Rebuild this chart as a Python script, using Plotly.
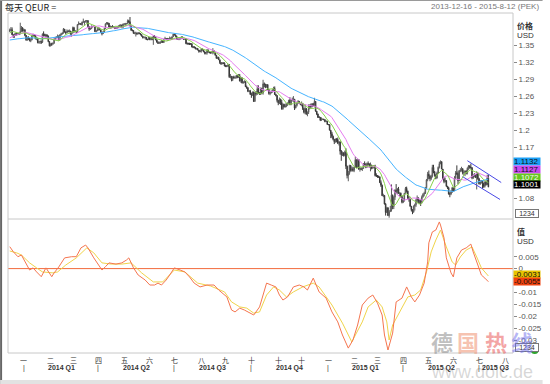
import pandas as pd
import plotly.graph_objects as go

# ---------------- DATA (EUR/USD daily, prices in pips: 13765 -> 1.3765) ----------------
# closes before the visible window (2013-09-02 .. 2013-12-13), used only to seed the averages
warmup_close = [
    13205, 13180, 13210, 13110, 13185, 13255, 13270, 13315, 13295, 13280, 13345, 13360, 13520, 13535, 13525, 13490, 13490, 13520, 13485, 13525, 13525,
    13500, 13580, 13625, 13555, 13580, 13575, 13510, 13545, 13550, 13570, 13510, 13555, 13670, 13685, 13675, 13780, 13780, 13800, 13805, 13785, 13775, 13720, 13585,
    13485, 13510, 13500, 13515, 13365, 13365, 13405, 13425, 13465, 13490, 13500, 13505, 13535, 13440, 13485, 13555, 13520, 13575, 13585, 13595, 13590,
    13545, 13590, 13590, 13665, 13705, 13740, 13760, 13780, 13760, 13740,
]

months = ["2013-12", "2014-01", "2014-02", "2014-03", "2014-04", "2014-05", "2014-06", "2014-07",
          "2014-08", "2014-09", "2014-10", "2014-11", "2014-12", "2015-01", "2015-02", "2015-03",
          "2015-04", "2015-05", "2015-06", "2015-07"]

close_m = [
    [13765, 13770, 13680, 13665, 13675, 13700, 13690, 13700, 13695, 13740, 13800, 13745],
    [13770, 13670, 13590, 13630, 13615, 13575, 13590, 13670, 13675, 13670, 13610, 13620, 13540, 13560, 13560, 13550, 13690, 13675, 13675, 13670, 13660, 13560, 13485],
    [13520, 13515, 13530, 13595, 13635, 13640, 13655, 13590, 13680, 13695, 13710, 13780, 13730, 13715, 13740, 13735, 13745, 13690, 13730, 13805],
    [13735, 13745, 13730, 13860, 13875, 13880, 13860, 13905, 13905, 13910, 13925, 13930, 13825, 13780, 13790, 13830, 13825, 13830, 13735, 13750, 13770],
    [13795, 13765, 13720, 13700, 13730, 13790, 13875, 13890, 13885, 13815, 13815, 13820, 13815, 13815, 13795, 13795, 13810, 13825, 13830, 13850, 13810, 13870],
    [13870, 13870, 13875, 13925, 13910, 13835, 13760, 13755, 13705, 13710, 13710, 13695, 13710, 13705, 13685, 13655, 13630, 13635, 13635, 13595, 13595, 13635],
    [13595, 13630, 13595, 13660, 13640, 13590, 13550, 13530, 13545, 13545, 13575, 13545, 13600, 13610, 13605, 13600, 13610, 13615, 13615, 13645, 13690],
    [13680, 13655, 13610, 13600, 13605, 13615, 13640, 13615, 13605, 13610, 13525, 13525, 13525, 13525, 13525, 13465, 13465, 13460, 13430, 13440, 13410, 13395, 13390],
    [13425, 13420, 13380, 13365, 13360, 13410, 13375, 13365, 13360, 13365, 13400, 13360, 13320, 13265, 13280, 13240, 13190, 13170, 13185, 13180, 13130],
    [13130, 13130, 13150, 12940, 12950, 12890, 12940, 12920, 12925, 12960, 12945, 12960, 12865, 12920, 12830, 12850, 12850, 12765, 12745, 12685, 12690, 12630],
    [12620, 12670, 12505, 12655, 12645, 12730, 12650, 12630, 12740, 12655, 12815, 12810, 12760, 12800, 12715, 12645, 12655, 12670, 12700, 12735, 12630, 12610, 12525],
    [12480, 12545, 12490, 12375, 12455, 12410, 12420, 12440, 12470, 12525, 12450, 12530, 12545, 12545, 12390, 12435, 12475, 12505, 12470, 12450],
    [12470, 12380, 12315, 12380, 12285, 12315, 12375, 12445, 12410, 12465, 12435, 12505, 12335, 12285, 12225, 12225, 12175, 12190, 12195, 12185, 12150, 12155, 12100],
    [12100, 12000, 11935, 11890, 11840, 11795, 11845, 11835, 11770, 11790, 11630, 11565, 11600, 11555, 11610, 11365, 11200, 11240, 11380, 11290, 11320, 11290],
    [11345, 11480, 11345, 11480, 11315, 11320, 11310, 11325, 11400, 11390, 11355, 11410, 11405, 11380, 11385, 11330, 11340, 11360, 11200, 11195],
    [11185, 11175, 11075, 11030, 10845, 10850, 10700, 10550, 10630, 10495, 10565, 10595, 10855, 10655, 10820, 10940, 10925, 10965, 10885, 10890, 10830, 10730],
    [10765, 10885, 10975, 10925, 10800, 10780, 10660, 10600, 10560, 10660, 10685, 10765, 10810, 10740, 10750, 10730, 10825, 10870, 10885, 10985, 11125, 11225],
    [11195, 11145, 11185, 11345, 11265, 11200, 11155, 11245, 11345, 11410, 11445, 11315, 11145, 11095, 11110, 11015, 10985, 10875, 10875, 10910, 10985],
    [10930, 11150, 11245, 11240, 11110, 11290, 11290, 11320, 11250, 11260, 11280, 11240, 11330, 11370, 11350, 11340, 11160, 11200, 11200, 11165, 11235, 11145],
    [11055, 11085, 11110, 11060, 11010, 11085, 11040, 11160, 11001],
]
high_m = [
    [13790, 13815, 13810, 13690, 13705, 13715, 13710, 13710, 13720, 13893, 13835, 13815],
    [13790, 13775, 13675, 13650, 13655, 13625, 13620, 13685, 13700, 13690, 13675, 13645, 13625, 13570, 13580, 13580, 13705, 13740, 13700, 13695, 13690, 13665, 13565],
    [13530, 13540, 13545, 13620, 13645, 13650, 13685, 13670, 13690, 13715, 13720, 13800, 13780, 13740, 13775, 13765, 13775, 13750, 13735, 13825],
    [13820, 13765, 13745, 13870, 13915, 13885, 13885, 13915, 13965, 13925, 13935, 13935, 13935, 13830, 13805, 13845, 13835, 13845, 13835, 13765, 13810],
    [13810, 13805, 13770, 13735, 13745, 13800, 13880, 13905, 13895, 13880, 13845, 13835, 13850, 13825, 13820, 13820, 13830, 13850, 13860, 13865, 13860, 13875],
    [13885, 13890, 13885, 13950, 13945, 13993, 13845, 13775, 13760, 13725, 13735, 13720, 13730, 13720, 13710, 13690, 13660, 13650, 13650, 13640, 13610, 13645],
    [13640, 13650, 13640, 13670, 13675, 13645, 13600, 13565, 13560, 13565, 13590, 13580, 13610, 13645, 13620, 13625, 13620, 13650, 13640, 13650, 13695],
    [13700, 13685, 13665, 13610, 13615, 13625, 13655, 13650, 13620, 13620, 13620, 13545, 13540, 13540, 13535, 13525, 13480, 13480, 13465, 13445, 13445, 13415, 13405],
    [13445, 13440, 13425, 13390, 13370, 13430, 13420, 13385, 13380, 13390, 13445, 13395, 13370, 13325, 13295, 13295, 13215, 13200, 13195, 13190, 13195],
    [13150, 13145, 13170, 13165, 12990, 12945, 12950, 12960, 12945, 12970, 12970, 12990, 12990, 12940, 12930, 12860, 12880, 12865, 12785, 12760, 12705, 12710],
    [12660, 12680, 12680, 12670, 12690, 12790, 12790, 12670, 12750, 12745, 12887, 12840, 12815, 12810, 12810, 12720, 12685, 12700, 12720, 12765, 12770, 12640, 12615],
    [12530, 12575, 12555, 12535, 12475, 12460, 12470, 12475, 12490, 12535, 12580, 12545, 12575, 12600, 12550, 12445, 12490, 12530, 12515, 12480],
    [12505, 12480, 12395, 12455, 12390, 12330, 12455, 12450, 12470, 12475, 12480, 12570, 12515, 12335, 12290, 12250, 12230, 12225, 12200, 12200, 12190, 12175, 12165],
    [12105, 12095, 11965, 11970, 11905, 11840, 11850, 11860, 11870, 11810, 11805, 11650, 11625, 11610, 11640, 11680, 11375, 11280, 11390, 11385, 11360, 11355],
    [11355, 11535, 11480, 11500, 11490, 11345, 11345, 11345, 11420, 11450, 11420, 11430, 11450, 11415, 11430, 11390, 11370, 11385, 11390, 11240],
    [11210, 11200, 11185, 11115, 11040, 10880, 10855, 10715, 10650, 10645, 10590, 10665, 11045, 10865, 10835, 10960, 11050, 10980, 11000, 10905, 10900, 10840],
    [10800, 10895, 11000, 11005, 10935, 10835, 10785, 10660, 10610, 10675, 10705, 10790, 10850, 10800, 10780, 10790, 10850, 10890, 10915, 11000, 11140, 11265],
    [11290, 11200, 11215, 11390, 11390, 11280, 11225, 11270, 11360, 11445, 11467, 11450, 11315, 11175, 11165, 11120, 11010, 11000, 10905, 10945, 11000],
    [10990, 11190, 11280, 11380, 11275, 11300, 11330, 11355, 11330, 11300, 11285, 11295, 11345, 11385, 11380, 11410, 11345, 11225, 11245, 11220, 11275, 11250],
    [11160, 11120, 11120, 11115, 11075, 11100, 11105, 11215, 11215],
]
low_m = [
    [13725, 13740, 13680, 13625, 13625, 13665, 13665, 13680, 13675, 13690, 13730, 13735],
    [13740, 13655, 13575, 13575, 13590, 13565, 13550, 13585, 13640, 13640, 13600, 13585, 13530, 13525, 13520, 13520, 13535, 13645, 13650, 13640, 13615, 13550, 13475],
    [13475, 13485, 13505, 13525, 13590, 13615, 13620, 13580, 13585, 13665, 13685, 13700, 13720, 13685, 13715, 13725, 13730, 13685, 13645, 13700],
    [13715, 13725, 13710, 13715, 13850, 13855, 13855, 13840, 13895, 13855, 13895, 13880, 13805, 13750, 13765, 13780, 13810, 13825, 13730, 13725, 13745],
    [13755, 13760, 13715, 13670, 13700, 13725, 13785, 13860, 13855, 13815, 13785, 13790, 13810, 13805, 13780, 13785, 13790, 13805, 13820, 13820, 13795, 13795],
    [13845, 13840, 13865, 13875, 13885, 13830, 13750, 13740, 13700, 13690, 13650, 13680, 13690, 13690, 13670, 13650, 13615, 13620, 13600, 13590, 13585, 13590],
    [13585, 13585, 13585, 13503, 13630, 13585, 13545, 13520, 13520, 13520, 13535, 13540, 13535, 13595, 13585, 13575, 13580, 13600, 13600, 13600, 13640],
    [13670, 13645, 13595, 13590, 13585, 13595, 13605, 13605, 13590, 13590, 13515, 13505, 13505, 13500, 13500, 13460, 13445, 13445, 13425, 13420, 13410, 13365, 13375],
    [13365, 13400, 13375, 13335, 13335, 13330, 13370, 13355, 13350, 13355, 13335, 13355, 13315, 13260, 13255, 13240, 13165, 13150, 13160, 13165, 13125],
    [13110, 13110, 13115, 12920, 12915, 12860, 12865, 12910, 12905, 12910, 12915, 12920, 12860, 12835, 12825, 12820, 12835, 12760, 12730, 12670, 12670, 12625],
    [12570, 12605, 12500, 12520, 12610, 12620, 12645, 12625, 12620, 12640, 12625, 12755, 12740, 12750, 12705, 12625, 12615, 12650, 12665, 12695, 12620, 12595, 12490],
    [12440, 12460, 12445, 12360, 12360, 12400, 12400, 12405, 12430, 12460, 12440, 12440, 12505, 12500, 12355, 12385, 12415, 12470, 12465, 12440],
    [12420, 12355, 12295, 12280, 12270, 12245, 12285, 12370, 12395, 12405, 12420, 12415, 12325, 12265, 12215, 12215, 12160, 12165, 12185, 12175, 12140, 12145, 12095],
    [12085, 11995, 11860, 11860, 11820, 11755, 11780, 11785, 11755, 11730, 11570, 11460, 11545, 11535, 11540, 11315, 11150, 11100, 11215, 11270, 11270, 11270],
    [11260, 11335, 11335, 11360, 11300, 11270, 11300, 11280, 11320, 11360, 11330, 11335, 11375, 11340, 11275, 11310, 11325, 11325, 11185, 11175],
    [11160, 11160, 11075, 11000, 10840, 10820, 10690, 10495, 10540, 10490, 10458, 10560, 10565, 10610, 10610, 10770, 10880, 10880, 10880, 10825, 10810, 10710],
    [10715, 10740, 10870, 10900, 10785, 10740, 10650, 10570, 10520, 10545, 10585, 10650, 10720, 10710, 10700, 10665, 10710, 10810, 10835, 10875, 10960, 11100],
    [11140, 11100, 11120, 11165, 11240, 11180, 11135, 11150, 11240, 11325, 11400, 11315, 11130, 11065, 11080, 11000, 10965, 10865, 10818, 10855, 10895],
    [10920, 10930, 11140, 11210, 11050, 11110, 11260, 11270, 11220, 11205, 11190, 11220, 11220, 11300, 11320, 11320, 11135, 11140, 11170, 11160, 10955, 11125],
    [11045, 11035, 11060, 10970, 10985, 10990, 11025, 11050, 10995],
]

# lower panel: trading-day number (0 = 2013-12-16) and value
macd_day = [0, 3, 7, 10, 17, 20, 23, 27, 31, 36, 38, 42, 47, 53, 57, 61, 65, 67, 72, 75, 79, 82, 85, 91, 96,
            100, 102, 106, 110, 116, 120, 124, 127, 130, 134, 137, 141, 146, 150, 154, 158, 163, 169, 175,
            179, 186, 190, 193, 197, 201, 209, 214, 217, 220, 224, 228, 231, 234, 238, 243, 248, 252, 255,
            260, 265, 271, 276, 281, 285, 290, 294, 298, 302, 307, 311, 315, 319, 321, 324, 328, 331, 336,
            340, 344, 347, 351, 355, 358, 359, 362, 365, 368, 369, 372, 374, 378, 380, 383, 387, 391, 395,
            397, 401, 404, 407, 410]
macd_val = [0.0092, 0.0071, 0.0050, 0.0057, -0.0006, 0.0003, -0.0014, -0.0034, 0.0003, -0.0034, -0.0018,
            0.0007, 0.0045, 0.0050, 0.0050, 0.0087, 0.0099, 0.0087, 0.0045, 0.0024, -0.0006, 0.0008, 0.0024,
            0.0019, 0.0024, 0.0036, 0.0045, 0.0003, -0.0027, -0.0048, -0.0069, -0.0069, -0.0061, -0.0069,
            -0.0048, -0.0027, 0.0003, -0.0006, -0.0014, -0.0035, -0.0061, -0.0077, -0.0069, -0.0069, -0.0090,
            -0.0119, -0.0174, -0.0182, -0.0166, -0.0174, -0.0195, -0.0161, -0.0111, -0.0061, -0.0069, -0.0077,
            -0.0111, -0.0132, -0.0119, -0.0077, -0.0069, -0.0077, -0.0090, -0.0040, -0.0098, -0.0124, -0.0182,
            -0.0224, -0.0279, -0.0334, -0.0300, -0.0237, -0.0153, -0.0124, -0.0111, -0.0145, -0.0195, -0.0279,
            -0.0342, -0.0271, -0.0140, -0.0124, -0.0077, -0.0119, -0.0140, -0.0111, -0.0061, 0.0028, 0.0108,
            0.0154, 0.0162, 0.0196, 0.0183, 0.0129, 0.0045, -0.0018, -0.0035, 0.0045, 0.0078, 0.0087, 0.0103,
            0.0070, 0.0015, -0.0027, -0.0040, -0.0055]
signal_day = [0, 6, 10, 17, 23, 28, 37, 41, 48, 57, 66, 72, 79, 87, 96, 104, 113, 123, 131, 141, 150, 161,
              172, 184, 190, 197, 203, 209, 214, 220, 226, 231, 237, 243, 251, 260, 265, 276, 285, 293, 302,
              307, 314, 319, 323, 325, 328, 336, 341, 347, 352, 357, 361, 365, 369, 374, 379, 382, 386, 391,
              396, 400, 404, 410]
signal_val = [0.0074, 0.0066, 0.0057, 0.0024, 0.0003, -0.0014, -0.0018, -0.0014, 0.0015, 0.0045, 0.0087,
              0.0066, 0.0024, 0.0019, 0.0019, 0.0024, -0.0018, -0.0056, -0.0056, -0.0006, -0.0014, -0.0061,
              -0.0073, -0.0098, -0.0140, -0.0161, -0.0166, -0.0187, -0.0182, -0.0111, -0.0077, -0.0090,
              -0.0119, -0.0098, -0.0077, -0.0061, -0.0077, -0.0153, -0.0229, -0.0308, -0.0224, -0.0161,
              -0.0132, -0.0161, -0.0224, -0.0300, -0.0237, -0.0166, -0.0119, -0.0111, -0.0090, -0.0014,
              0.0070, 0.0120, 0.0162, 0.0091, 0.0028, 0.0015, 0.0049, 0.0078, 0.0091, 0.0049, 0.0003, -0.0031]

# descending channel drawn on the chart
channel_upper_dates = ["2015-06-17", "2015-07-28"]
channel_upper = [1.1462, 1.1078]
channel_lower_dates = ["2015-06-11", "2015-07-27"]
channel_lower = [1.1180, 1.0779]

# last values shown in the right-hand boxes
price_box_vals = [1.1132, 1.1127, 1.1072, 1.1001]   # MA60, MA20, MA10, close
macd_box_vals = [-0.0031, -0.0055]                  # signal, MACD

# tick labels visible on the right-hand axes (the others are hidden under the value boxes)
price_ticks = [1.08, 1.17, 1.20, 1.23, 1.26, 1.29, 1.32, 1.35]
price_tick_text = ["1.08", "1.17", "1.2", "1.23", "1.26", "1.29", "1.32", "1.35"]
macd_ticks = [0.005, 0.0, -0.01, -0.015, -0.02, -0.025, -0.03]
macd_tick_text = ["0.005", "0", "-0.01", "-0.015", "-0.02", "-0.025", "-0.03"]
month_labels = ["一", "二", "三", "四", "五", "六", "七", "八", "九", "十", "十", "十"]
quarter_labels = ["2014 Q1", "2014 Q2", "2014 Q3", "2014 Q4", "2015 Q1", "2015 Q2", "2015 Q3"]

# ---------------- BUILD ----------------
all_days = pd.bdate_range("2013-12-16", "2015-08-12")
pos = {d: i for i, d in enumerate(all_days)}

xs, C, H, L = [], [], [], []
for key, cl, hl, ll in zip(months, close_m, high_m, low_m):
    mdays = [d for d in all_days if d.strftime("%Y-%m") == key]
    for d, c, h, l in zip(mdays, cl, hl, ll):
        xs.append(pos[d]); C.append(c / 1e4); H.append(h / 1e4); L.append(l / 1e4)

O = [warmup_close[-1] / 1e4] + C[:-1]
H = [max(h, o, c) for h, o, c in zip(H, O, C)]
L = [min(l, o, c) for l, o, c in zip(L, O, C)]

full = pd.Series([v / 1e4 for v in warmup_close] + C)
nw = len(warmup_close)
ma10 = full.rolling(10).mean().iloc[nw:].tolist()
ma20 = full.rolling(20).mean().iloc[nw:].tolist()
ma60 = full.rolling(60).mean().iloc[nw:].tolist()

FONT = "Liberation Sans, Noto Sans CJK SC, sans-serif"
CJK = "Noto Sans CJK SC, sans-serif"

fig = go.Figure()
fig.add_trace(go.Candlestick(
    x=xs, open=O, high=H, low=L, close=C, xaxis="x", yaxis="y",
    increasing=dict(line=dict(color="#5c5c5c", width=1), fillcolor="#a8a8a8"),
    decreasing=dict(line=dict(color="#383838", width=1), fillcolor="#707070"),
    whiskerwidth=0, showlegend=False))
for ser, col in [(ma60, "#45b4ff"), (ma20, "#e67cf0"), (ma10, "#88d04a")]:
    fig.add_trace(go.Scatter(x=xs, y=ser, mode="lines", line=dict(color=col, width=1),
                             xaxis="x", yaxis="y", showlegend=False))
for dts, ser in ((channel_upper_dates, channel_upper), (channel_lower_dates, channel_lower)):
    fig.add_trace(go.Scatter(x=[pos[pd.Timestamp(d)] for d in dts], y=ser, mode="lines",
                             line=dict(color="#4848e6", width=1), xaxis="x", yaxis="y", showlegend=False))

fig.add_trace(go.Scatter(x=[-2, 436], y=[0, 0], mode="lines", line=dict(color="#f26a3c", width=1),
                         xaxis="x", yaxis="y2", showlegend=False))
fig.add_trace(go.Scatter(x=signal_day, y=signal_val, mode="lines", line=dict(color="#f0d44a", width=1),
                         xaxis="x", yaxis="y2", showlegend=False))
fig.add_trace(go.Scatter(x=macd_day, y=macd_val, mode="lines", line=dict(color="#f5754f", width=1),
                         xaxis="x", yaxis="y2", showlegend=False))

W, Hgt = 550, 384
ML, MR, MT, MB = 8, 30, 13, 31
PW, PH = W - ML - MR, Hgt - MT - MB


def px(xp):
    return (xp - ML) / PW


def py(yp):
    return (Hgt - MB - yp) / PH


split = py(219)

axis_common = dict(side="right", showgrid=False, zeroline=False, ticks="outside", ticklen=3,
                   tickcolor="#8a8a8a", tickfont=dict(family=FONT, size=8, color="#555555"),
                   showline=False, fixedrange=True)
fig.update_layout(
    width=W, height=Hgt, margin=dict(l=ML, r=MR, t=MT, b=MB),
    paper_bgcolor="white", plot_bgcolor="white", showlegend=False,
    xaxis=dict(range=[-1.5, 431.1], anchor="y2", showticklabels=False, showgrid=False,
               zeroline=False, showline=False, ticks="", rangeslider=dict(visible=False), fixedrange=True),
    yaxis=dict(domain=[split, 1], range=[1.0435, 1.4064], anchor="x", tickvals=price_ticks,
               ticktext=price_tick_text, **axis_common),
    yaxis2=dict(domain=[0, split], range=[-0.03546, 0.02084], anchor="x", tickvals=macd_ticks,
                ticktext=macd_tick_text, **axis_common),
)

shapes = [
    dict(type="rect", xref="paper", yref="paper", x0=0, x1=1, y0=0, y1=1,
         line=dict(color="#c8c8c8", width=1)),
    dict(type="line", xref="paper", yref="paper", x0=0, x1=1, y0=split, y1=split,
         line=dict(color="#c8c8c8", width=1)),
    dict(type="rect", xref="paper", yref="paper", x0=px(0), x1=px(2), y0=py(384), y1=py(0),
         fillcolor="#666666", line=dict(width=0)),
    dict(type="rect", xref="paper", yref="paper", x0=px(0), x1=px(550), y0=py(384), y1=py(380),
         fillcolor="#e2e2e2", line=dict(width=0)),
    dict(type="line", xref="paper", yref="paper", x0=px(0), x1=px(550), y0=py(0.5), y1=py(0.5),
         line=dict(color="#9a9a9a", width=1)),
    dict(type="circle", xref="paper", yref="paper", x0=px(538), x1=px(546), y0=py(354), y1=py(346),
         fillcolor="#2ea52e", line=dict(width=0)),
]
fig.update_layout(shapes=shapes)

ann = []
ann.append(dict(xref="paper", yref="paper", x=px(3), y=py(7), xanchor="left", yanchor="middle",
                text="每天 QEUR =", showarrow=False, font=dict(family=CJK, size=9, color="#222")))
ann.append(dict(xref="paper", yref="paper", x=px(548), y=py(6), xanchor="right", yanchor="middle",
                text="2013-12-16 - 2015-8-12 (PEK)", showarrow=False,
                font=dict(family=FONT, size=8, color="#777")))
for txt, yp, bold in [("价格", 25.5, True), ("USD", 35, False), ("值", 232, True), ("USD", 241, False)]:
    ann.append(dict(xref="paper", yref="paper", x=px(522), y=py(yp), xanchor="left", yanchor="middle",
                    text=f"<b>{txt}</b>" if bold else txt, showarrow=False,
                    font=dict(family=CJK if bold else FONT, size=8, color="#333")))
for yp in (213.5, 347.5):
    ann.append(dict(xref="paper", yref="paper", x=px(522), y=py(yp), xanchor="left", yanchor="middle",
                    text="1234", showarrow=False, bordercolor="#777", borderwidth=1, borderpad=0,
                    bgcolor="white", width=22, height=7, font=dict(family=FONT, size=7, color="#333")))

# right-hand value boxes (stacked upward from the last close / last MACD)
box_cols = [("#1a9ff5", "#111"), ("#c84af2", "#111"), ("#66c81e", "#f4f4f4"), ("#000000", "#ffffff")]
for i, (v, (bg, fc)) in enumerate(zip(price_box_vals, box_cols)):
    ann.append(dict(xref="paper", yref="y", x=1.0, y=price_box_vals[-1], yshift=(3 - i) * 7.7 + 2,
                    xanchor="left", yanchor="middle", text=f"{v:.4f}", showarrow=False, bgcolor=bg,
                    width=26, height=7, borderpad=0, align="left",
                    font=dict(family=FONT, size=8, color=fc)))
for i, (v, bg) in enumerate(zip(macd_box_vals, ["#e8c400", "#f0420e"])):
    ann.append(dict(xref="paper", yref="y2", x=1.0, y=macd_box_vals[-1], yshift=(1 - i) * 7.3,
                    xanchor="left", yanchor="middle", text=f"{v:.4f}", showarrow=False, bgcolor=bg,
                    width=26, height=7, borderpad=0, align="left",
                    font=dict(family=FONT, size=8, color="#111")))

# watermark
for ch, xp, col in [("德", 448, "rgba(130,130,130,0.5)"), ("国", 474, "rgba(238,135,100,0.5)"),
                    ("热", 503, "rgba(232,75,75,0.5)"), ("线", 529, "rgba(110,110,235,0.5)")]:
    ann.append(dict(xref="paper", yref="paper", x=px(xp), y=py(341), xanchor="center", yanchor="middle",
                    text=f"<b>{ch}</b>", showarrow=False, font=dict(family=CJK, size=22, color=col)))
ann.append(dict(xref="paper", yref="paper", x=px(489), y=py(372), xanchor="center", yanchor="middle",
                text="www.dolc.de", showarrow=False,
                font=dict(family=FONT, size=18, color="rgba(150,150,150,0.38)")))

# month / quarter labels below the lower panel
month_starts = []
for y in (2014, 2015):
    for m in range(1, 13):
        ts = pd.Timestamp(year=y, month=m, day=1)
        idx = all_days.searchsorted(ts)
        if idx < len(all_days):
            month_starts.append(int(idx))
mlabels = (month_labels * 2)[:len(month_starts)]
for idx, lab in zip(month_starts, mlabels):
    ann.append(dict(xref="x", yref="paper", x=idx, y=0, yshift=-1, xanchor="center", yanchor="top",
                    text=lab, showarrow=False, borderpad=0, font=dict(family=CJK, size=7, color="#333")))
q_starts = month_starts[::3]
q_bounds = q_starts + [431]
for i, lab in enumerate(quarter_labels):
    ann.append(dict(xref="x", yref="paper", x=(q_bounds[i] + q_bounds[i + 1]) / 2, y=0, yshift=-10,
                    xanchor="center", yanchor="top", text=f"<b>{lab}</b>", showarrow=False, borderpad=0,
                    font=dict(family=FONT, size=7, color="#333")))
    ann.append(dict(xref="x", yref="paper", x=q_starts[i], y=0, yshift=-10, xanchor="center", yanchor="top",
                    text="|", showarrow=False, borderpad=0, font=dict(family=FONT, size=7, color="#333")))

fig.update_layout(annotations=ann)
fig.write_html("out.html", config={"displayModeBar": False},
               post_script="document.body.style.margin='0px';document.body.style.overflow='hidden';")
